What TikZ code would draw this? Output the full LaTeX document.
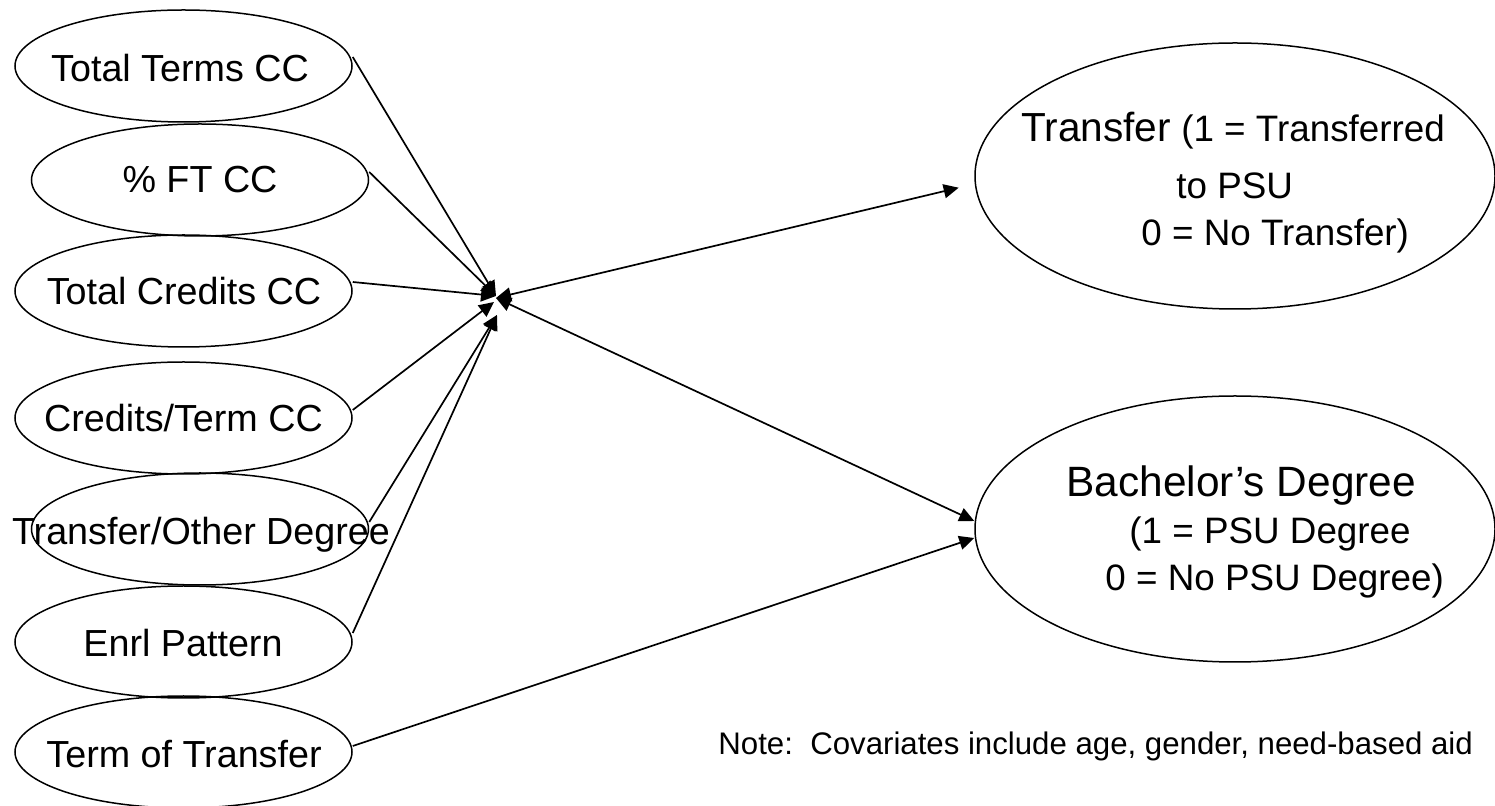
\documentclass[tikz,border=0pt]{standalone}
\usepackage{fontspec}
\setmainfont{Liberation Sans}
\usetikzlibrary{arrows.meta,shapes.geometric}
\begin{document}
\begin{tikzpicture}[x=0.5pt,y=-0.5pt,
  smalloval/.style={draw, line width=0.75pt, ellipse, minimum width=168.5pt, minimum height=56pt, inner sep=0pt},
  bigoval/.style={draw, line width=0.75pt, ellipse, minimum width=260pt, minimum height=133pt, inner sep=0pt},
  lbl/.style={inner sep=0pt, anchor=base, font=\fontsize{18.85}{22}\selectfont},
  rtxt/.style={inner sep=0pt, anchor=base west, font=\fontsize{18.4}{22}\selectfont},
  conn/.style={line width=0.85pt, -{Triangle[length=7.5pt,width=7pt]}},
  twoway/.style={line width=0.85pt, {Triangle[length=7.5pt,width=7pt]}-{Triangle[length=7.5pt,width=7pt]}}
]
\useasboundingbox (0,0) rectangle (1495,806);

% predictor ellipses
\node[smalloval] (e1) at (183.5,66) {};
\node[smalloval] (e2) at (200,180) {};
\node[smalloval] (e3) at (183.5,291) {};
\node[smalloval] (e4) at (183.5,418) {};
\node[smalloval] (e5) at (200,529) {};
\node[smalloval] (e6) at (183.5,642) {};
\node[smalloval] (e7) at (183.5,752) {};

\node[lbl] (t1) at (180,82) {Total Terms CC};
\node[lbl] (t2) at (200,193) {\% FT CC};
\node[lbl] (t3) at (184,305) {Total Credits CC};
\node[lbl] (t4) at (183.5,432) {Credits/Term CC};
\node[lbl] (t5) at (201,545) {Transfer/Other Degree};
\node[lbl] (t6) at (183,657) {Enrl Pattern};
\node[lbl] (t7) at (184,768) {Term of Transfer};

% outcome ellipses
\node[bigoval] (tr) at (1235,176) {};
\node[bigoval] (ba) at (1235,529) {};

\node[rtxt] (tr1) at (1021,142) {{\fontsize{20.3}{24}\selectfont Transfer} (1 = Transferred};
\node[rtxt] (tr2) at (1176,199) {to PSU};
\node[rtxt] (tr3) at (1141,246) {0 = No Transfer)};

\node[rtxt, font=\fontsize{21.2}{25}\selectfont] (ba1) at (1066,497) {Bachelor’s Degree};
\node[rtxt] (ba2) at (1129,544) {(1 = PSU Degree};
\node[rtxt] (ba3) at (1105,591) {0 = No PSU Degree)};

\node[inner sep=0pt, anchor=base west, font=\fontsize{15.6}{18}\selectfont] (note) at (718,755) {Note:\ \ Covariates include age, gender, need-based aid};

% convergence points
\coordinate (hubA) at (496,296);
\coordinate (hubB) at (494,302);
\coordinate (hubC) at (497,315);
\coordinate (hubO) at (496,298);

% connectors
\draw[conn] ([yshift=4.5pt]e1.east) -- (hubA);
\draw[conn] ([yshift=4pt]e2.east) -- (hubA);
\draw[conn] ([yshift=4.5pt]e3.east) -- (hubA);
\draw[conn] ([yshift=4pt]e4.east) -- (hubB);
\draw[conn] ([yshift=3.5pt]e5.east) -- (hubC);
\draw[conn] ([yshift=4.5pt]e6.east) -- (hubC);

\draw[twoway, shorten >=8pt] (hubO) -- ([yshift=-4pt]tr.west);
\draw[twoway] (hubO) -- ([yshift=4pt]ba.west);
\draw[conn] ([yshift=3pt]e7.east) -- ([yshift=-4.5pt]ba.west);
\end{tikzpicture}
\end{document}
